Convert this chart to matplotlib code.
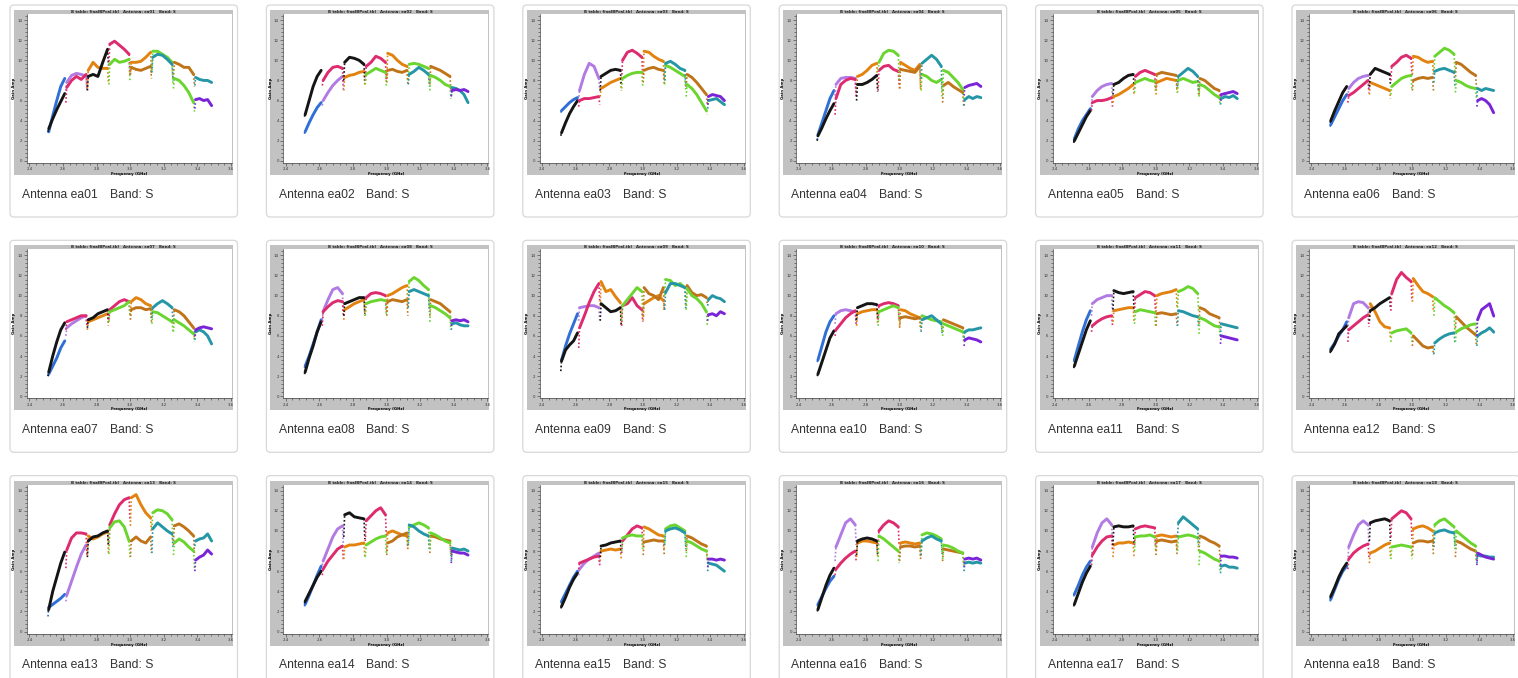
import numpy as np
import matplotlib.pyplot as plt
from matplotlib.patches import FancyBboxPatch, Rectangle

W, H = 1518, 678

# spectral windows (GHz): first / last are trimmed at the band edges
spw_lo = [2.510, 2.616, 2.744, 2.872, 3.000, 3.128, 3.256, 3.384]
spw_hi = [2.616, 2.744, 2.872, 3.000, 3.128, 3.256, 3.384, 3.490]

antenna_names = ["ea%02d" % i for i in range(1, 19)]
band_name = "S"

# gain amplitude per curve: [edge, 5 channel samples, edge]
# two curves per spw, in spw order
gain_ea01 = [
    [2.8, 2.9, 4.5, 6.0, 7.4, 8.2, 8.2], [2.9, 3.2, 4.2, 5.1, 5.9, 6.7, 6.7],
    [7.0, 7.8, 8.5, 8.7, 8.6, 8.4, 7.0], [5.8, 7.3, 8.0, 8.4, 8.1, 8.6, 7.2],
    [7.2, 9.0, 9.8, 9.3, 9.2, 9.2, 7.8], [7.0, 8.4, 8.6, 8.4, 9.8, 11.1, 9.5],
    [9.5, 11.6, 11.9, 11.5, 11.1, 10.6, 8.4], [7.6, 9.6, 10.1, 9.8, 9.9, 10.1, 8.0],
    [8.8, 9.8, 9.8, 9.9, 10.3, 10.8, 8.6], [8.6, 9.3, 9.1, 9.0, 9.2, 9.4, 8.2],
    [9.0, 10.9, 10.9, 10.6, 10.3, 9.8, 7.6], [8.8, 10.3, 10.6, 10.5, 10.1, 9.6, 8.0],
    [8.2, 9.8, 9.6, 9.3, 9.3, 8.6, 7.4], [7.2, 8.2, 8.0, 7.5, 6.8, 5.8, 4.9],
    [7.5, 8.3, 8.1, 8.0, 8.0, 7.8, 7.8], [5.2, 6.1, 6.2, 6.0, 6.1, 5.5, 5.5],
]
gain_ea02 = [
    [2.7, 2.9, 3.8, 4.6, 5.3, 5.8, 5.8], [4.4, 4.6, 6.0, 7.4, 8.4, 9.0, 9.0],
    [5.5, 6.0, 6.8, 7.5, 8.0, 8.4, 7.0], [7.5, 8.0, 8.8, 9.3, 9.4, 9.2, 7.6],
    [7.0, 8.3, 8.5, 8.6, 8.8, 8.9, 7.4], [8.0, 9.8, 10.3, 10.2, 10.0, 9.6, 8.0],
    [8.0, 9.4, 9.8, 10.4, 10.2, 9.8, 8.0], [7.6, 8.6, 8.9, 9.2, 9.0, 8.8, 7.5],
    [8.4, 10.7, 10.5, 10.0, 9.6, 9.4, 8.0], [7.8, 9.0, 9.1, 8.9, 8.8, 9.0, 7.6],
    [8.0, 9.6, 9.7, 9.6, 9.4, 9.2, 7.8], [7.6, 8.6, 8.9, 9.3, 9.0, 8.6, 7.4],
    [7.6, 9.4, 9.2, 9.0, 8.7, 8.4, 7.0], [7.0, 8.5, 8.3, 8.0, 7.6, 7.4, 6.2],
    [6.5, 7.3, 7.2, 7.0, 6.6, 5.8, 5.8], [6.4, 7.0, 7.1, 7.0, 7.1, 6.9, 6.9],
]
gain_ea03 = [
    [4.8, 5.0, 5.4, 5.8, 6.1, 6.3, 6.3], [2.5, 2.8, 3.8, 4.7, 5.4, 6.0, 6.0],
    [6.0, 7.0, 8.6, 9.7, 9.4, 8.2, 7.0], [5.4, 6.0, 6.2, 6.2, 6.3, 6.4, 5.6],
    [6.4, 7.2, 7.5, 7.8, 8.0, 8.2, 7.0], [7.0, 8.4, 8.7, 9.0, 9.1, 9.0, 7.6],
    [8.2, 10.0, 10.8, 11.0, 10.7, 10.3, 8.4], [7.2, 8.2, 8.5, 8.7, 8.8, 8.8, 7.4],
    [8.6, 10.9, 10.8, 10.4, 10.1, 9.9, 8.2], [7.8, 9.0, 9.2, 9.3, 9.1, 9.0, 7.6],
    [7.6, 9.5, 9.3, 9.0, 8.7, 8.4, 7.0], [8.0, 9.7, 9.9, 9.6, 9.2, 9.0, 7.4],
    [7.4, 8.6, 8.3, 7.8, 7.2, 6.6, 5.6], [6.4, 7.6, 7.2, 6.6, 5.8, 5.0, 4.6],
    [5.2, 6.0, 6.1, 6.2, 5.9, 5.6, 5.6], [5.6, 6.4, 6.6, 6.5, 6.4, 6.0, 6.0],
]
gain_ea04 = [
    [2.1, 2.6, 3.8, 5.0, 6.2, 7.0, 7.0], [2.0, 2.5, 3.3, 4.2, 5.0, 5.7, 5.7],
    [6.5, 7.6, 8.2, 8.3, 8.3, 8.2, 6.6], [4.6, 6.2, 7.6, 8.0, 8.2, 8.1, 6.2],
    [6.8, 8.4, 8.6, 9.0, 9.5, 9.7, 7.2], [6.0, 7.6, 7.6, 7.8, 8.1, 8.5, 6.9],
    [7.0, 9.0, 9.4, 9.5, 9.1, 8.9, 7.6], [9.0, 9.8, 10.7, 11.0, 10.9, 10.5, 8.0],
    [7.2, 9.8, 9.5, 9.2, 9.0, 9.6, 7.0], [7.2, 9.1, 9.0, 8.9, 8.8, 9.4, 7.2],
    [7.0, 8.6, 8.4, 8.0, 7.8, 8.1, 6.3], [8.2, 9.7, 10.1, 10.5, 10.1, 9.4, 7.0],
    [5.8, 7.5, 7.8, 7.4, 7.1, 6.8, 5.5], [7.0, 9.0, 8.8, 8.3, 7.8, 7.1, 6.0],
    [5.5, 6.1, 6.4, 6.2, 6.4, 6.3, 6.3], [6.5, 7.3, 7.5, 7.6, 7.7, 7.4, 7.4],
]
gain_ea05 = [
    [2.0, 2.2, 3.2, 4.0, 4.6, 5.2, 5.2], [1.8, 2.0, 2.8, 3.6, 4.4, 5.0, 5.0],
    [5.6, 6.4, 7.0, 7.4, 7.6, 7.7, 6.4], [5.0, 5.8, 6.0, 6.0, 6.1, 6.3, 5.4],
    [5.8, 6.4, 6.6, 6.9, 7.2, 7.6, 6.6], [6.6, 7.6, 7.8, 8.2, 8.5, 8.6, 7.6],
    [7.2, 8.4, 8.8, 9.0, 8.8, 8.6, 7.2], [6.8, 7.8, 8.0, 8.2, 8.0, 7.9, 6.8],
    [6.6, 7.8, 8.0, 8.2, 8.1, 8.0, 6.8], [7.2, 8.6, 8.8, 8.7, 8.6, 8.5, 7.2],
    [6.8, 8.0, 8.2, 8.0, 7.8, 7.9, 6.6], [7.4, 8.4, 8.8, 9.2, 8.9, 8.4, 7.0],
    [6.6, 8.2, 8.0, 7.6, 7.2, 7.0, 6.0], [6.4, 7.6, 7.4, 7.0, 6.6, 6.3, 5.6],
    [5.6, 6.2, 6.4, 6.3, 6.5, 6.2, 6.2], [6.0, 6.6, 6.7, 6.8, 6.9, 6.7, 6.7],
]
gain_ea06 = [
    [3.4, 3.6, 4.4, 5.2, 6.0, 6.6, 6.6], [3.8, 4.0, 5.0, 5.9, 6.8, 7.4, 7.4],
    [6.4, 7.2, 7.8, 8.2, 8.4, 8.5, 7.2], [5.8, 6.5, 6.8, 7.2, 7.6, 8.0, 6.8],
    [6.6, 7.8, 7.6, 7.4, 7.2, 7.0, 6.2], [7.4, 8.6, 9.2, 9.0, 8.8, 8.6, 7.6],
    [8.0, 9.4, 9.8, 10.3, 10.5, 10.2, 8.4], [6.6, 7.4, 7.8, 8.2, 8.4, 8.5, 7.0],
    [8.6, 10.4, 10.3, 10.0, 9.8, 9.9, 8.4], [7.0, 8.0, 8.2, 8.3, 8.2, 8.3, 7.0],
    [8.8, 10.4, 10.8, 11.2, 11.0, 10.6, 8.8], [7.8, 8.9, 9.1, 9.2, 9.0, 8.8, 7.4],
    [8.0, 9.8, 9.6, 9.2, 8.8, 8.5, 7.2], [6.8, 8.0, 7.8, 7.5, 7.3, 7.2, 6.2],
    [6.4, 7.2, 7.0, 7.2, 7.1, 7.0, 7.0], [5.4, 6.0, 6.2, 6.0, 5.6, 4.8, 4.8],
]
gain_ea07 = [
    [2.0, 2.2, 3.0, 3.8, 4.8, 5.5, 5.5], [2.0, 2.4, 4.0, 5.4, 6.6, 7.3, 7.3],
    [6.0, 6.8, 7.2, 7.5, 7.8, 8.0, 7.0], [6.6, 7.4, 7.6, 7.8, 8.0, 8.0, 7.0],
    [6.6, 7.4, 7.6, 7.8, 8.0, 8.2, 7.0], [6.8, 7.6, 7.8, 8.2, 8.4, 8.6, 7.4],
    [7.6, 8.6, 9.0, 9.4, 9.6, 9.4, 8.0], [7.4, 8.4, 8.6, 8.8, 9.0, 9.4, 8.0],
    [8.0, 9.4, 9.8, 9.6, 9.2, 9.0, 7.8], [7.6, 8.6, 8.8, 8.8, 8.6, 8.7, 7.4],
    [7.2, 8.4, 8.3, 8.0, 7.7, 7.4, 6.4], [7.8, 8.8, 9.2, 9.5, 9.2, 8.8, 7.4],
    [7.2, 8.6, 8.4, 8.0, 7.4, 6.8, 5.8], [6.4, 7.6, 7.3, 7.0, 6.6, 6.2, 5.4],
    [5.6, 6.4, 6.6, 6.4, 6.0, 5.2, 5.2], [6.0, 6.6, 6.8, 6.9, 6.8, 6.7, 6.7],
]
gain_ea08 = [
    [2.8, 3.0, 4.0, 5.2, 6.4, 7.6, 7.6], [2.2, 2.4, 3.8, 5.0, 6.4, 7.4, 7.4],
    [7.6, 8.4, 9.6, 10.6, 10.8, 10.2, 8.4], [7.0, 8.4, 8.9, 9.3, 9.5, 9.4, 8.0],
    [7.6, 8.6, 8.9, 9.2, 9.4, 9.6, 8.0], [8.0, 9.2, 9.4, 9.6, 9.8, 9.8, 8.2],
    [8.4, 9.8, 10.2, 10.3, 10.2, 10.0, 8.4], [8.0, 9.2, 9.4, 9.5, 9.6, 9.5, 8.0],
    [8.4, 10.0, 10.2, 10.5, 10.8, 11.0, 8.8], [8.0, 9.4, 9.6, 9.5, 9.4, 9.6, 8.0],
    [9.6, 11.4, 11.8, 11.5, 11.0, 10.6, 8.8], [8.8, 10.4, 10.6, 10.4, 10.2, 10.0, 8.4],
    [8.0, 9.6, 9.4, 9.2, 8.8, 8.4, 7.2], [7.4, 9.0, 8.8, 8.5, 8.2, 7.8, 6.6],
    [6.6, 7.2, 7.3, 7.1, 7.0, 7.0, 7.0], [7.0, 7.5, 7.6, 7.5, 7.6, 7.4, 7.4],
]
gain_ea09 = [
    [3.4, 3.6, 5.0, 6.2, 7.2, 8.2, 8.2], [2.5, 3.5, 4.6, 5.1, 5.5, 6.3, 6.3],
    [7.5, 8.8, 8.9, 9.0, 9.0, 8.8, 7.6], [4.8, 6.8, 8.0, 9.3, 10.4, 11.2, 9.5],
    [9.0, 11.4, 10.4, 10.6, 9.9, 9.3, 7.2], [7.5, 9.2, 8.8, 8.4, 8.5, 8.8, 7.0],
    [7.0, 9.0, 9.2, 9.8, 9.0, 8.6, 7.4], [7.5, 9.0, 9.6, 10.2, 10.8, 10.4, 7.8],
    [7.5, 9.2, 9.5, 9.8, 10.0, 9.5, 8.4], [8.0, 10.8, 10.2, 10.0, 9.6, 10.8, 8.6],
    [10.0, 11.6, 11.5, 11.0, 11.2, 10.8, 9.0], [8.6, 10.3, 11.2, 11.2, 11.0, 10.8, 8.7],
    [9.0, 11.0, 10.3, 10.0, 10.1, 9.8, 9.2], [8.6, 10.7, 10.0, 9.7, 9.2, 8.4, 7.0],
    [9.0, 9.6, 10.0, 9.8, 9.7, 9.4, 9.4], [7.5, 8.1, 8.2, 8.0, 8.4, 8.2, 8.2],
]
gain_ea10 = [
    [3.4, 3.6, 5.0, 6.4, 7.4, 8.0, 8.0], [2.0, 2.2, 3.4, 4.6, 5.8, 6.5, 6.5],
    [7.2, 8.2, 8.5, 8.6, 8.5, 8.4, 7.2], [6.0, 6.6, 7.2, 7.8, 8.2, 8.5, 7.2],
    [7.0, 8.2, 8.4, 8.5, 8.6, 8.6, 7.2], [7.6, 8.8, 9.0, 9.2, 9.2, 9.1, 7.8],
    [7.6, 9.0, 9.2, 9.3, 9.2, 9.0, 7.6], [7.0, 8.4, 8.6, 8.8, 9.0, 8.8, 7.4],
    [7.0, 8.6, 8.5, 8.2, 8.0, 7.8, 6.8], [6.8, 7.8, 7.9, 7.8, 7.7, 7.8, 6.6],
    [6.8, 8.0, 7.8, 7.6, 7.5, 7.4, 6.4], [6.4, 7.6, 7.8, 8.0, 7.6, 7.2, 6.2],
    [6.4, 7.6, 7.4, 7.2, 7.0, 6.8, 5.8], [6.0, 7.2, 7.0, 6.8, 6.6, 6.4, 5.4],
    [5.8, 6.4, 6.6, 6.6, 6.7, 6.8, 6.8], [5.0, 5.6, 5.8, 5.7, 5.6, 5.4, 5.4],
]
gain_ea11 = [
    [3.4, 3.6, 5.0, 6.4, 7.6, 8.5, 8.5], [2.8, 3.0, 4.2, 5.4, 6.6, 7.5, 7.5],
    [8.0, 9.2, 9.6, 9.8, 10.0, 10.0, 8.4], [6.4, 7.0, 7.4, 7.7, 7.9, 8.0, 7.0],
    [7.4, 8.5, 8.6, 8.7, 8.8, 8.8, 7.4], [8.6, 10.5, 10.3, 10.2, 10.3, 10.4, 8.6],
    [8.4, 9.8, 10.1, 10.4, 10.3, 10.0, 8.4], [7.2, 8.4, 8.6, 8.5, 8.4, 8.3, 7.0],
    [8.4, 10.0, 10.2, 10.3, 10.4, 10.6, 8.8], [7.0, 8.2, 8.3, 8.2, 8.1, 8.2, 7.0],
    [8.8, 10.4, 10.6, 10.9, 10.7, 10.2, 8.4], [7.0, 8.5, 8.4, 8.2, 8.0, 7.9, 6.8],
    [7.2, 8.8, 8.6, 8.2, 8.0, 7.8, 6.6], [6.2, 7.8, 7.6, 7.3, 7.0, 6.9, 5.8],
    [6.0, 7.2, 7.1, 7.0, 6.9, 6.8, 6.8], [5.2, 6.0, 5.9, 5.8, 5.7, 5.6, 5.6],
]
gain_ea12 = [
    [4.6, 4.7, 5.3, 6.0, 6.6, 7.4, 7.4], [4.3, 4.5, 5.2, 6.2, 6.6, 7.0, 7.0],
    [6.2, 7.8, 9.2, 9.4, 9.3, 8.8, 7.5], [5.4, 6.6, 7.0, 7.4, 7.8, 8.1, 6.9],
    [8.0, 9.2, 8.4, 7.4, 6.9, 6.8, 5.7], [7.5, 8.5, 8.8, 9.2, 9.5, 9.8, 8.8],
    [8.5, 10.2, 11.6, 12.3, 11.8, 11.4, 9.5], [5.4, 6.3, 6.5, 6.6, 6.7, 6.3, 5.4],
    [9.4, 11.7, 11.0, 10.4, 10.2, 9.9, 8.4], [5.0, 6.0, 5.5, 5.0, 4.8, 4.9, 4.1],
    [8.0, 9.8, 9.4, 9.0, 8.7, 8.3, 6.4], [4.2, 5.3, 5.7, 6.0, 6.2, 6.3, 5.3],
    [6.8, 7.9, 7.4, 6.9, 6.5, 6.1, 5.0], [5.4, 6.4, 6.7, 6.9, 7.1, 7.2, 5.6],
    [5.0, 6.0, 6.3, 6.5, 6.8, 6.4, 6.2], [6.0, 7.6, 8.6, 8.9, 9.2, 8.0, 7.8],
]
gain_ea13 = [
    [1.5, 2.4, 2.7, 3.0, 3.3, 3.7, 3.7], [2.0, 2.2, 4.0, 5.4, 6.8, 7.9, 7.9],
    [3.0, 3.6, 5.0, 6.4, 7.7, 8.6, 7.6], [6.3, 8.1, 9.3, 9.8, 9.8, 9.7, 7.6],
    [7.6, 9.5, 9.2, 9.4, 9.7, 9.9, 7.7], [7.4, 9.0, 9.4, 9.5, 9.8, 10.0, 8.5],
    [8.5, 10.6, 11.7, 12.6, 13.1, 13.3, 11.0], [7.7, 10.3, 10.9, 11.0, 10.4, 9.0, 7.4],
    [10.5, 13.3, 13.6, 12.6, 11.8, 11.3, 10.0], [7.4, 9.0, 9.4, 9.0, 8.8, 9.4, 7.8],
    [10.2, 11.8, 12.1, 12.0, 11.7, 11.1, 9.0], [7.8, 10.2, 10.8, 10.4, 10.0, 9.7, 8.4],
    [8.6, 10.5, 10.7, 10.4, 10.0, 9.5, 7.6], [7.6, 8.8, 9.2, 8.9, 8.4, 8.0, 6.1],
    [8.5, 9.0, 9.2, 9.3, 9.7, 9.0, 9.0], [6.0, 7.1, 7.4, 7.6, 8.1, 7.7, 7.7],
]
gain_ea14 = [
    [2.5, 2.7, 3.6, 4.6, 5.6, 6.5, 6.5], [2.8, 3.0, 3.8, 4.6, 5.4, 6.0, 6.0],
    [6.6, 7.0, 8.2, 9.4, 10.2, 10.5, 8.6], [5.6, 6.2, 7.0, 7.6, 8.2, 8.5, 7.2],
    [7.2, 8.4, 8.6, 8.6, 8.7, 8.8, 7.4], [9.4, 11.6, 11.8, 11.4, 11.3, 11.2, 9.2],
    [9.0, 11.0, 11.5, 12.0, 12.3, 11.6, 9.4], [7.4, 8.6, 8.9, 9.2, 9.4, 9.5, 7.8],
    [8.0, 9.8, 10.0, 9.8, 9.6, 9.5, 8.0], [7.6, 8.8, 9.0, 9.4, 9.6, 9.8, 8.2],
    [8.8, 10.4, 10.6, 10.8, 10.6, 10.3, 8.6], [8.6, 10.6, 10.4, 10.0, 9.7, 9.5, 8.0],
    [7.8, 9.5, 9.4, 9.2, 9.1, 9.0, 7.6], [8.2, 9.8, 9.6, 9.3, 9.0, 8.8, 7.4],
    [7.0, 8.3, 8.2, 8.1, 8.2, 8.0, 8.0], [6.8, 8.0, 7.9, 7.8, 7.8, 7.6, 7.6],
]
gain_ea15 = [
    [2.8, 3.0, 3.8, 4.6, 5.4, 6.0, 6.0], [2.3, 2.5, 3.4, 4.4, 5.2, 5.8, 5.8],
    [5.6, 6.2, 6.8, 7.2, 7.5, 7.8, 6.6], [6.2, 6.8, 7.0, 7.2, 7.4, 7.5, 6.6],
    [7.0, 8.0, 8.1, 8.2, 8.1, 8.2, 7.2], [7.4, 8.5, 8.6, 8.8, 8.9, 9.0, 7.8],
    [7.8, 9.0, 9.6, 10.2, 10.5, 10.3, 8.6], [8.0, 9.3, 9.5, 9.6, 9.5, 9.5, 8.0],
    [8.4, 10.4, 10.2, 9.9, 9.6, 9.5, 8.0], [7.6, 8.9, 9.0, 9.1, 9.0, 9.0, 7.6],
    [8.8, 10.2, 10.5, 10.6, 10.3, 10.0, 8.4], [8.6, 10.0, 10.2, 10.3, 10.1, 9.8, 8.2],
    [8.0, 9.5, 9.3, 9.0, 8.7, 8.5, 7.2], [7.4, 9.0, 8.8, 8.5, 8.2, 8.0, 6.8],
    [6.0, 6.8, 6.7, 6.6, 6.3, 6.0, 6.0], [6.4, 7.2, 7.2, 7.1, 7.2, 7.1, 7.1],
]
gain_ea16 = [
    [2.5, 2.7, 3.5, 4.3, 5.0, 5.5, 5.5], [2.0, 2.2, 3.4, 4.6, 5.6, 6.3, 6.3],
    [7.0, 8.4, 9.6, 10.8, 11.2, 10.6, 8.6], [5.6, 6.2, 6.8, 7.3, 7.7, 8.0, 7.0],
    [7.4, 8.8, 9.0, 9.0, 8.9, 8.8, 7.4], [7.6, 9.0, 9.2, 9.3, 9.2, 9.0, 7.6],
    [8.6, 10.0, 10.6, 11.0, 10.8, 10.4, 8.6], [7.0, 9.5, 9.2, 8.8, 8.4, 8.0, 6.8],
    [7.4, 8.8, 8.9, 8.8, 8.7, 8.8, 7.4], [7.0, 8.4, 8.5, 8.5, 8.4, 8.5, 7.2],
    [8.0, 9.6, 9.8, 9.7, 9.5, 9.2, 7.8], [7.6, 9.0, 9.3, 9.5, 9.2, 9.0, 7.6],
    [7.0, 8.2, 8.1, 8.0, 7.9, 7.8, 6.6], [7.2, 8.6, 8.5, 8.3, 8.0, 7.8, 6.6],
    [6.0, 6.8, 6.9, 6.8, 6.9, 6.8, 6.8], [6.4, 7.2, 7.3, 7.2, 7.3, 7.1, 7.1],
]
gain_ea17 = [
    [3.5, 3.7, 4.6, 5.6, 6.4, 7.0, 7.0], [2.5, 2.7, 3.8, 4.9, 5.8, 6.5, 6.5],
    [7.0, 8.4, 9.8, 10.8, 11.2, 10.6, 8.8], [6.6, 7.6, 8.4, 9.0, 9.4, 9.5, 8.0],
    [7.4, 8.6, 8.8, 8.8, 8.9, 8.8, 7.4], [8.6, 10.4, 10.5, 10.4, 10.4, 10.5, 8.8],
    [8.6, 10.2, 10.4, 10.5, 10.4, 10.3, 8.6], [8.0, 9.4, 9.5, 9.5, 9.6, 9.4, 8.0],
    [8.0, 9.5, 9.6, 9.5, 9.4, 9.5, 8.0], [7.6, 9.0, 9.1, 9.0, 8.9, 9.0, 7.6],
    [8.0, 9.4, 9.5, 9.6, 9.5, 9.3, 8.0], [9.4, 10.8, 11.4, 11.0, 10.6, 10.2, 8.6],
    [8.0, 9.5, 9.3, 9.0, 8.8, 8.5, 7.2], [6.6, 8.0, 7.8, 7.5, 7.2, 7.0, 6.0],
    [5.8, 6.5, 6.6, 6.4, 6.4, 6.3, 6.3], [6.6, 7.5, 7.5, 7.4, 7.4, 7.3, 7.3],
]
gain_ea18 = [
    [3.0, 3.2, 4.2, 5.2, 6.0, 6.5, 6.5], [3.3, 3.5, 4.4, 5.4, 6.2, 6.8, 6.8],
    [7.0, 8.4, 9.6, 10.6, 11.0, 10.6, 8.6], [6.2, 7.2, 7.8, 8.2, 8.5, 8.7, 7.4],
    [6.8, 7.8, 8.0, 8.3, 8.6, 8.8, 7.4], [9.0, 10.8, 11.0, 11.1, 11.2, 11.0, 9.0],
    [9.4, 11.2, 11.6, 12.0, 11.8, 11.2, 9.2], [7.2, 8.4, 8.5, 8.6, 8.5, 8.4, 7.2],
    [8.4, 10.2, 10.4, 10.5, 10.3, 10.0, 8.4], [7.6, 8.8, 9.0, 9.0, 8.9, 9.0, 7.6],
    [9.2, 10.6, 11.0, 11.2, 10.8, 10.4, 8.6], [8.4, 9.8, 10.0, 10.1, 9.9, 9.8, 8.2],
    [7.4, 9.0, 8.8, 8.5, 8.2, 8.0, 6.8], [8.2, 10.0, 9.6, 9.2, 8.8, 8.5, 7.2],
    [6.8, 7.6, 7.5, 7.5, 7.4, 7.4, 7.4], [6.6, 7.8, 7.6, 7.4, 7.3, 7.2, 7.2],
]

antenna_gains = [gain_ea01, gain_ea02, gain_ea03, gain_ea04, gain_ea05, gain_ea06,
                 gain_ea07, gain_ea08, gain_ea09, gain_ea10, gain_ea11, gain_ea12,
                 gain_ea13, gain_ea14, gain_ea15, gain_ea16, gain_ea17, gain_ea18]

# plotms-like colour for each of the two curves in each spw
cols = {
    'blue': '#2f6fd6', 'black': '#151515', 'lavender': '#b27be3',
    'magenta': '#de2a6e', 'orange': '#e2820f', 'brown': '#c0741a',
    'green': '#6ad52e', 'teal': '#2596a6', 'purple': '#7a24d8',
}
spw_colors = [('blue', 'black'), ('lavender', 'magenta'), ('orange', 'black'),
              ('magenta', 'green'), ('orange', 'brown'), ('green', 'teal'),
              ('brown', 'green'), ('teal', 'purple')]

fig = plt.figure(figsize=(W / 100, H / 100), dpi=100)
fig.patch.set_facecolor('white')

bg = fig.add_axes([0, 0, 1, 1])
bg.set_xlim(0, W)
bg.set_ylim(H, 0)
bg.axis('off')


def px_axes(left, top, width, height):
    return fig.add_axes([left / W, 1 - (top + height) / H, width / W, height / H])


def draw_gain_panel(ax, curves):
    for k in range(8):
        lo, hi = spw_lo[k], spw_hi[k]
        w = hi - lo
        xb = np.linspace(lo + 0.05 * w, hi - 0.05 * w, 5)
        for j in range(2):
            v = curves[2 * k + j]
            c = cols[spw_colors[k][j]]
            ax.plot(xb, v[1:6], color=c, lw=2.1, solid_capstyle='round',
                    solid_joinstyle='round')
            # edge channels drop off, drawn as sparse points
            ax.plot([lo + 0.01 * w, xb[0]], [v[0], v[1]], color=c, lw=1.2,
                    ls=(0, (1, 1.3)))
            ax.plot([xb[-1], hi - 0.01 * w], [v[5], v[6]], color=c, lw=1.2,
                    ls=(0, (1, 1.3)))

    ax.set_xlim(2.386, 3.606)
    ax.set_ylim(-0.2, 14.6)
    ax.set_xticks(np.arange(2.4, 3.61, 0.2))
    ax.set_xticks(np.arange(2.4, 3.61, 0.04), minor=True)
    ax.set_yticks(np.arange(0, 15, 2))
    ax.set_yticks(np.arange(0, 14.6, 0.4), minor=True)
    ax.set_xticklabels(['%.1f' % t for t in np.arange(2.4, 3.61, 0.2)])
    ax.tick_params(which='both', direction='out', labelsize=2.8, colors='#333333',
                   width=0.4, pad=1)
    ax.tick_params(which='major', length=2.2)
    ax.tick_params(which='minor', length=1.2)
    for s in ['top', 'right']:
        ax.spines[s].set_visible(False)
    for s in ['left', 'bottom']:
        ax.spines[s].set_color('#444444')
        ax.spines[s].set_linewidth(0.5)
    ax.set_xlabel('Frequency (GHz)', fontsize=2.8, fontweight='bold', labelpad=0.5)
    ax.set_ylabel('Gain Amp', fontsize=2.8, fontweight='bold', labelpad=1)
    ax.set_facecolor('white')


for i, (name, curves) in enumerate(zip(antenna_names, antenna_gains)):
    col, row = i % 6, i // 6
    cx = 10 + 256.4 * col
    cy = 5 + 235.3 * row

    card = FancyBboxPatch((cx + 4, cy + 4), 227.5 - 8, 212 - 8,
                          boxstyle='round,pad=4', fc='white', ec='#d8d8d8', lw=0.9)
    bg.add_patch(card)
    bg.add_patch(Rectangle((cx + 4, cy + 5), 219, 165, fc='#c2c2c2', ec='none'))
    bg.text(cx + 113.5, cy + 7.2,
            'B table: finalBPcal.tbl   Antenna: %s   Band: %s' % (name, band_name),
            fontsize=2.8, fontweight='bold', color='#222222', ha='center', va='center')

    ax = px_axes(cx + 17, cy + 9, 205, 149)
    draw_gain_panel(ax, curves)

    bg.text(cx + 12.3, cy + 189.5, 'Antenna %s' % name, fontsize=8.7,
            family='Liberation Sans', color='#333333', va='center', ha='left')
    bg.text(cx + 100, cy + 189.5, 'Band: %s' % band_name, fontsize=8.7,
            family='Liberation Sans', color='#333333', va='center', ha='left')

fig.savefig('out.png', dpi=100, facecolor='white')
